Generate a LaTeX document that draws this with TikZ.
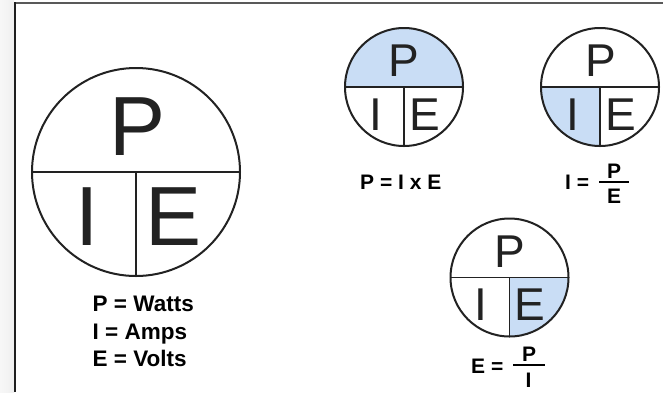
\documentclass[tikz,border=0pt]{standalone}
\usepackage{fontspec}
\setmainfont{Liberation Sans}
\definecolor{pieblue}{RGB}{201,221,245}
\definecolor{ink}{RGB}{34,34,34}
\tikzset{
  pie/.style={circle, draw=ink, line width=2pt, inner sep=0pt, outer sep=0pt},
  divline/.style={draw=ink, line width=1.6pt},
  bigletter/.style={anchor=base, inner sep=0pt, text=ink, font=\fontsize{84}{84}\selectfont},
  letter/.style={anchor=base, inner sep=0pt, text=ink, font=\fontsize{46}{46}\selectfont},
  lab/.style={anchor=base, inner sep=0pt, text=black, font=\bfseries\fontsize{21}{21}\selectfont},
  legend/.style={anchor=base west, inner sep=0pt, text=black, font=\bfseries\fontsize{22.5}{22.5}\selectfont},
  fracbar/.style={draw=black, line width=2pt}
}
\begin{document}
\begin{tikzpicture}[x=1pt,y=-1pt]
\useasboundingbox (0,0) rectangle (663,392);
\fill[white] (0,0) rectangle (663,392);
\shade[left color=gray!6, right color=gray!12] (0,0) rectangle (14,392);
\draw[black!65, line width=1.8pt] (14,3) -- (663,3);
\draw[black!88, line width=2.5pt] (15,392) -- (15,2);

% coordinates of circle centres
\coordinate (o0) at (136,172);
\coordinate (o1) at (404,87);
\coordinate (o2) at (600,87);
\coordinate (o3) at (509.5,277.5);

% shaded sectors
\begin{scope}
  \clip (o1) circle (59pt);
  \fill[pieblue] (o1) ++(-70,0) rectangle ++(140,-70);
\end{scope}
\begin{scope}
  \clip (o2) circle (59pt);
  \fill[pieblue] (o2) rectangle ++(-70,70);
\end{scope}
\begin{scope}
  \clip (o3) circle (59pt);
  \fill[pieblue] (o3) rectangle ++(70,70);
\end{scope}

% circles
\node[pie, minimum size=208pt] (c0) at (o0) {};
\node[pie, minimum size=118pt] (c1) at (o1) {};
\node[pie, minimum size=118pt] (c2) at (o2) {};
\node[pie, minimum size=118pt] (c3) at (o3) {};
\foreach \c in {c0,c1,c2,c3}{
  \draw[divline] (\c.west) -- (\c.east);
  \draw[divline] (\c.center) -- (\c.south);
}

% big circle letters
\node[bigletter] (p0) at (138,155) {P};
\node[bigletter] (i0) at (87.5,245) {I};
\node[bigletter] (e0) at (174,245) {E};

% small circle letters
\node[letter] (p1) at (404,76.5) {P};
\node[letter] (i1) at (376,130) {I};
\node[letter] (e1) at (425,130) {E};

\node[letter] (p2) at (601,76.5) {P};
\node[letter] (i2) at (573,130) {I};
\node[letter] (e2) at (621,130) {E};

\node[letter] (p3) at (509.5,267) {P};
\node[letter] (i3) at (481,320.5) {I};
\node[letter] (e3) at (530,320.5) {E};

% legend
\node[legend] (lw) at (92.5,311.5) {P = Watts};
\node[legend] (la) at (92.5,339) {I = Amps};
\node[legend] (lv) at (92.5,366) {E = Volts};

% formulas
\node[lab] (f1) at (400.8,189.3) {P = I x E};

\node[lab, anchor=base west] (f2l) at (565,189.5) {I =};
\coordinate (b2a) at (599,182);
\coordinate (b2b) at (629,182);
\draw[fracbar] (b2a) -- (b2b);
\node[lab] (f2n) at (614,178) {P};
\node[lab] (f2d) at (614,203.5) {E};

\node[lab, anchor=base west] (f3l) at (471,373.5) {E =};
\coordinate (b3a) at (513,365);
\coordinate (b3b) at (545,365);
\draw[fracbar] (b3a) -- (b3b);
\node[lab] (f3n) at (529,361.5) {P};
\node[lab] (f3d) at (528.5,387) {I};
\end{tikzpicture}
\end{document}
